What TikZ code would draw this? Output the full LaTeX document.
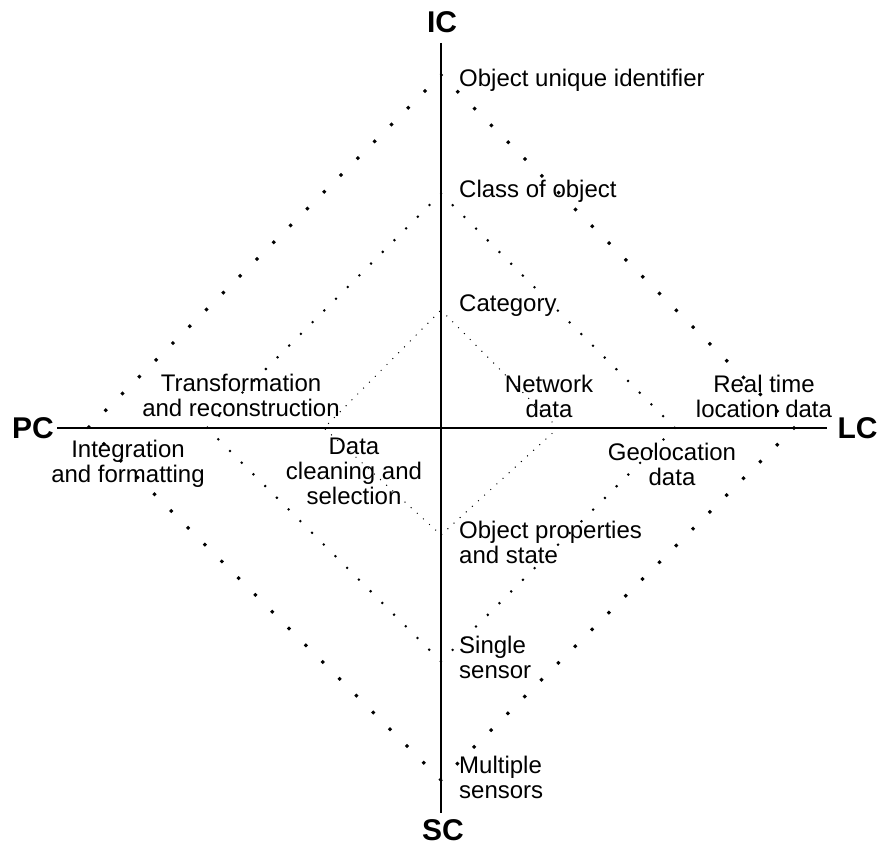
\documentclass[tikz,border=0pt]{standalone}
\usepackage{fontspec}
\setmainfont{Liberation Sans}
\begin{document}
\begin{tikzpicture}[x=1pt,y=-1pt,
  axis/.style={line width=1.5pt},
  pole/.style={font=\fontsize{30}{34}\selectfont\bfseries, inner sep=0pt},
  lbl/.style={font=\fontsize{24}{25}\selectfont, inner sep=0pt},
  lblL/.style={lbl, anchor=north west, align=left},
  lblC/.style={lbl, anchor=north, align=center},
  outerdots/.style={line width=3pt, dash pattern=on 3pt off 20.77pt, dash phase=1.5pt},
  middots/.style={line width=2pt, dash pattern=on 2pt off 14.55pt, dash phase=1pt},
  innerdots/.style={line width=1pt, dash pattern=on 1pt off 7.3pt, dash phase=0.5pt},
]
\useasboundingbox (0,0) rectangle (881,845);

% poles
\node[pole] (IC) at (442,22.5) {IC};
\node[pole] (PC) at (33,428) {PC};
\node[pole] (LC) at (857.5,428) {LC};
\node[pole] (SC) at (443,830.5) {SC};

% axis ends
\coordinate (axT) at (441,43);
\coordinate (axB) at (441,813);
\coordinate (axL) at (57,428);
\coordinate (axR) at (827,428);
\draw[axis] (axT) -- (axB);
\draw[axis] (axL) -- (axR);

% outer diamond
\coordinate (oT) at (441,75);
\coordinate (oR) at (794,428);
\coordinate (oB) at (441,780);
\coordinate (oL) at (88,428);
% middle diamond
\coordinate (mT) at (441,193.5);
\coordinate (mR) at (675,428);
\coordinate (mB) at (441,661.5);
\coordinate (mL) at (207,428);
% inner diamond
\coordinate (iT) at (441,310);
\coordinate (iR) at (558,428);
\coordinate (iB) at (441,535);
\coordinate (iL) at (324,428);

\draw[outerdots] (oT) -- (oR) -- (oB) -- (oL) -- cycle;
\draw[middots] (mT) -- (mR) -- (mB) -- (mL) -- cycle;
\draw[innerdots] (iT) -- (iR) -- (iB) -- (iL) -- cycle;

% labels along the vertical axis
\node[lblL] (uid) at (459,68.5) {Object unique identifier};
\node[lblL] (cls) at (459,179.5) {Class of object};
\node[lblL] (cat) at (459,294.5) {Category};
\node[lblL] (props) at (459,520.5) {Object properties\\and state};
\node[lblL] (single) at (459,635.5) {Single\\sensor};
\node[lblL] (multi) at (459,755.5) {Multiple\\sensors};

% labels in the quadrants
\node[lblC] (net) at (549,374.5) {Network\\data};
\node[lblC] (rtl) at (764,374.5) {Real time\\location data};
\node[lblC] (trans) at (241,373.5) {Transformation\\and reconstruction};
\node[lblC] (integ) at (128,439.5) {Integration\\and formatting};
\node[lblC] (clean) at (354,437.5) {Data\\cleaning and\\selection};
\node[lblC] (geo) at (672,442.5) {Geolocation\\data};
\end{tikzpicture}
\end{document}
